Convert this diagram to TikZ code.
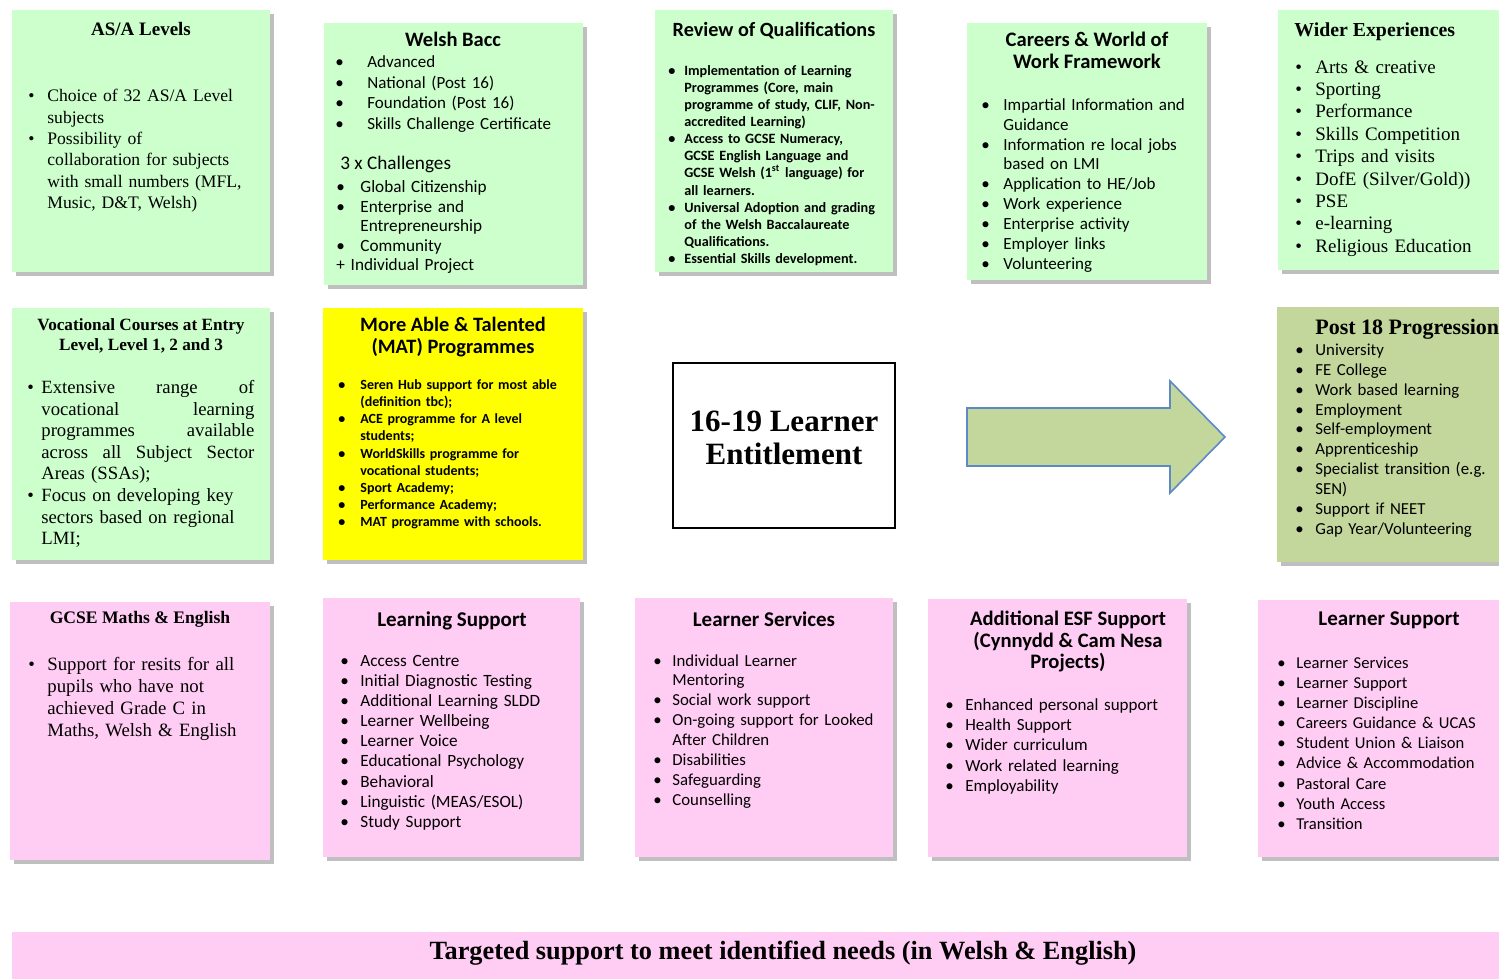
\documentclass[tikz,border=0pt]{standalone}
\usepackage{fontspec}
\setmainfont{Liberation Serif}
\newfontfamily\fcam{Liberation Serif}
\newfontfamily\fcal{Carlito}
\usetikzlibrary{shadows,fit}
\definecolor{lgreen}{HTML}{CCFFCC}
\definecolor{lpink}{HTML}{FFCCF4}
\definecolor{olivebox}{HTML}{C3D69B}
\definecolor{myyellow}{HTML}{FFFF00}
\definecolor{shadowgray}{HTML}{BFBFBF}
\definecolor{arrowblue}{HTML}{5B8AC6}
\newlength{\lm}
% first item (paragraph already started by the node) and following items
\newcommand{\bj}[1]{\makebox[\lm][l]{\textbullet}\parbox[t]{\dimexpr\hsize-\lm\relax}{\raggedright #1\strut}}
\newcommand{\np}{\par\prevdepth=\dp\strutbox\noindent}
\newcommand{\bi}[1]{\np\bj{#1}}
\newcommand{\fs}[2]{\fontsize{#1}{#2}\selectfont}
\newcommand{\jl}[1]{\makebox[106.5pt][l]{#1}}
\begin{document}
\begin{tikzpicture}[x=0.5pt,y=-0.5pt,
  card/.style={inner sep=0pt, draw=none, drop shadow={shadow xshift=2pt, shadow yshift=-2pt, fill=shadowgray, opacity=1}},
  gcard/.style={card, fill=lgreen},
  pcard/.style={card, fill=lpink},
  ycard/.style={card, fill=myyellow},
  ocard/.style={card, fill=olivebox},
  ttl/.style={anchor=north, inner sep=0pt, align=center},
  lst/.style={anchor=north west, inner sep=0pt, align=left}]
\clip (0,0) rectangle (1499,979);
\fill[white] (0,0) rectangle (1499,979);
% ---------- Row 1
\node[gcard, fit={(12,10)(270,272)}] (asa) {};
\node[ttl, font=\fcam\bfseries\fs{9.5}{11}] (asa-t) at (141,22) {AS/A Levels};
\node[lst, text width=118pt, font=\fcam\fs{8.8}{10.7}] (asa-l) at (28,89) {\setlength{\lm}{9.5pt}\bj{Choice of 32 AS/A Level\\subjects}\bi{Possibility of\\collaboration for subjects\\with small numbers (MFL,\\Music, D\&T, Welsh)}};

\node[gcard, fit={(324,23)(583,285)}] (wb) {};
\node[ttl, font=\fcal\bfseries\fs{10.25}{11}] (wb-t) at (453,32) {Welsh Bacc};
\node[lst, text width=118pt, font=\fcal\fs{8.5}{10.25}] (wb-l1) at (335,53) {\setlength{\lm}{16pt}\bj{Advanced}\bi{National (Post 16)}\bi{Foundation (Post 16)}\bi{Skills Challenge Certificate}};
\node[lst, font=\fcal\fs{9.6}{10}] (wb-c) at (340,156) {3 x Challenges};
\node[lst, text width=118pt, font=\fcal\fs{8.6}{9.7}] (wb-l2) at (336,179) {\setlength{\lm}{12pt}\bj{Global Citizenship}\bi{Enterprise and\\Entrepreneurship}\bi{Community}\np + Individual Project};

\node[gcard, fit={(655,10)(893,272)}] (rq) {};
\node[ttl, font=\fcal\bfseries\fs{10.1}{10}] (rq-t) at (774,22) {Review of Qualifications};
\node[lst, text width=112pt, font=\fcal\bfseries\fs{7.1}{8.55}] (rq-l) at (668,65) {\setlength{\lm}{8pt}\bj{Implementation of Learning\\Programmes (Core, main\\programme of study, CLIF, Non-\\accredited Learning)}\bi{Access to GCSE Numeracy,\\GCSE English Language and\\GCSE Welsh (1\textsuperscript{st} language) for\\all learners.}\bi{Universal Adoption and grading\\of the Welsh Baccalaureate\\Qualifications.}\bi{Essential Skills development.}};

\node[gcard, fit={(967,23)(1207,280)}] (cw) {};
\node[ttl, font=\fcal\bfseries\fs{10.3}{11}] (cw-t) at (1087,32) {Careers \& World of\\Work Framework};
\node[lst, text width=112pt, font=\fcal\fs{8.5}{9.95}] (cw-l) at (981,98) {\setlength{\lm}{11pt}\bj{Impartial Information and\\Guidance}\bi{Information re local jobs\\based on LMI}\bi{Application to HE/Job}\bi{Work experience}\bi{Enterprise activity}\bi{Employer links}\bi{Volunteering}};

\node[gcard, fit={(1278,10)(1515,270)}] (we) {};
\node[lst, font=\fcam\bfseries\fs{9.9}{11}] (we-t) at (1294,22) {Wider Experiences};
\node[lst, text width=105pt, font=\fcam\fs{9.5}{11.2}] (we-l) at (1295,57) {\setlength{\lm}{10pt}\bj{Arts \& creative}\bi{Sporting}\bi{Performance}\bi{Skills Competition}\bi{Trips and visits}\bi{DofE (Silver/Gold))}\bi{PSE}\bi{e-learning}\bi{Religious Education}};

% ---------- Row 2
\node[gcard, fit={(12,308)(270,560)}] (vc) {};
\node[ttl, font=\fcam\bfseries\fs{8.6}{10}] (vc-t) at (141,318) {Vocational Courses at Entry\\Level, Level 1, 2 and 3};
\node[lst, text width=122pt, font=\fcam\fs{9.35}{10.8}] (vc-l) at (27,380) {\setlength{\lm}{7pt}\bj{\jl{Extensive\hfill range\hfill of}\\\jl{vocational\hfill learning}\\\jl{programmes\hfill available}\\\jl{across\hfill all\hfill Subject\hfill Sector}\\Areas (SSAs);}\bi{Focus on developing key\\sectors based on regional\\LMI;}};

\node[ycard, fit={(323,308)(583,560)}] (mat) {};
\node[ttl, font=\fcal\bfseries\fs{10.2}{11}] (mat-t) at (453,317) {More Able \& Talented\\(MAT) Programmes};
\node[lst, text width=118pt, font=\fcal\bfseries\fs{7}{8.6}] (mat-l) at (338,379) {\setlength{\lm}{11pt}\bj{Seren Hub support for most able\\(definition tbc);}\bi{ACE programme for A level\\students;}\bi{WorldSkills programme for\\vocational students;}\bi{Sport Academy;}\bi{Performance Academy;}\bi{MAT programme with schools.}};

\node[draw=black, line width=1pt, fill=white, inner sep=0pt, fit={(673,363)(895,528)}] (ent) {};
\node[align=center, inner sep=0pt, font=\fcam\bfseries\fs{15.5}{16.5}] (ent-t) at (784,438) {16-19 Learner\\Entitlement};

\draw[arrowblue, fill=olivebox, line width=0.8pt, line join=miter] (967,408) -- (1170,408) -- (1170,381) -- (1225,437) -- (1170,493) -- (1170,466) -- (967,466) -- cycle;

\node[ocard, fit={(1277,307)(1515,562)}] (p18) {};
\node[lst, font=\fcam\bfseries\fs{11}{12}] (p18-t) at (1315,319) {Post 18 Progression};
\node[lst, text width=105pt, font=\fcal\fs{8.4}{9.95}] (p18-l) at (1295,341) {\setlength{\lm}{10pt}\bj{University}\bi{FE College}\bi{Work based learning}\bi{Employment}\bi{Self-employment}\bi{Apprenticeship}\bi{Specialist transition (e.g.\\SEN)}\bi{Support if NEET}\bi{Gap Year/Volunteering}};

% ---------- Row 3
\node[pcard, fit={(10,602)(270,860)}] (gc) {};
\node[ttl, font=\fcam\bfseries\fs{8.8}{11}] (gc-t) at (140,611) {GCSE Maths \& English};
\node[lst, text width=118pt, font=\fcam\fs{9.4}{11}] (gc-l) at (28,657) {\setlength{\lm}{9.5pt}\bj{Support for resits for all\\pupils who have not\\achieved Grade C in\\Maths, Welsh \& English}};

\node[pcard, fit={(323,598)(580,857)}] (ls) {};
\node[ttl, font=\fcal\bfseries\fs{10.5}{11}] (ls-t) at (452,611) {Learning Support};
\node[lst, text width=112pt, font=\fcal\fs{8.6}{10.05}] (ls-l) at (340,652) {\setlength{\lm}{10pt}\bj{Access Centre}\bi{Initial Diagnostic Testing}\bi{Additional Learning SLDD}\bi{Learner Wellbeing}\bi{Learner Voice}\bi{Educational Psychology}\bi{Behavioral}\bi{Linguistic (MEAS/ESOL)}\bi{Study Support}};

\node[pcard, fit={(635,598)(893,857)}] (lsv) {};
\node[ttl, font=\fcal\bfseries\fs{10.5}{11}] (lsv-t) at (764,611) {Learner Services};
\node[lst, text width=115pt, font=\fcal\fs{8.4}{9.95}] (lsv-l) at (653,654) {\setlength{\lm}{9.5pt}\bj{Individual Learner\\Mentoring}\bi{Social work support}\bi{On-going support for Looked\\After Children}\bi{Disabilities}\bi{Safeguarding}\bi{Counselling}};

\node[pcard, fit={(928,599)(1187,857)}] (esf) {};
\node[ttl, font=\fcal\bfseries\fs{10.3}{10.6}] (esf-t) at (1068,611) {Additional ESF Support\\(Cynnydd \& Cam Nesa\\Projects)};
\node[lst, text width=115pt, font=\fcal\fs{8.5}{10.1}] (esf-l) at (945,696) {\setlength{\lm}{10pt}\bj{Enhanced personal support}\bi{Health Support}\bi{Wider curriculum}\bi{Work related learning}\bi{Employability}};

\node[pcard, fit={(1258,600)(1515,857)}] (lsp) {};
\node[ttl, font=\fcal\bfseries\fs{10.5}{11}] (lsp-t) at (1389,611) {Learner Support};
\node[lst, text width=110pt, font=\fcal\fs{8.3}{10.05}] (lsp-l) at (1277,654) {\setlength{\lm}{9.5pt}\bj{Learner Services}\bi{Learner Support}\bi{Learner Discipline}\bi{Careers Guidance \& UCAS}\bi{Student Union \& Liaison}\bi{Advice \& Accommodation}\bi{Pastoral Care}\bi{Youth Access}\bi{Transition}};

% ---------- Banner
\node[fill=lpink, inner sep=0pt, fit={(12,932)(1515,990)}] (ban) {};
\node[inner sep=0pt, font=\fcam\bfseries\fs{13.15}{14}] (ban-t) at (783,953) {Targeted support to meet identified needs (in Welsh \& English)};
\end{tikzpicture}
\end{document}
